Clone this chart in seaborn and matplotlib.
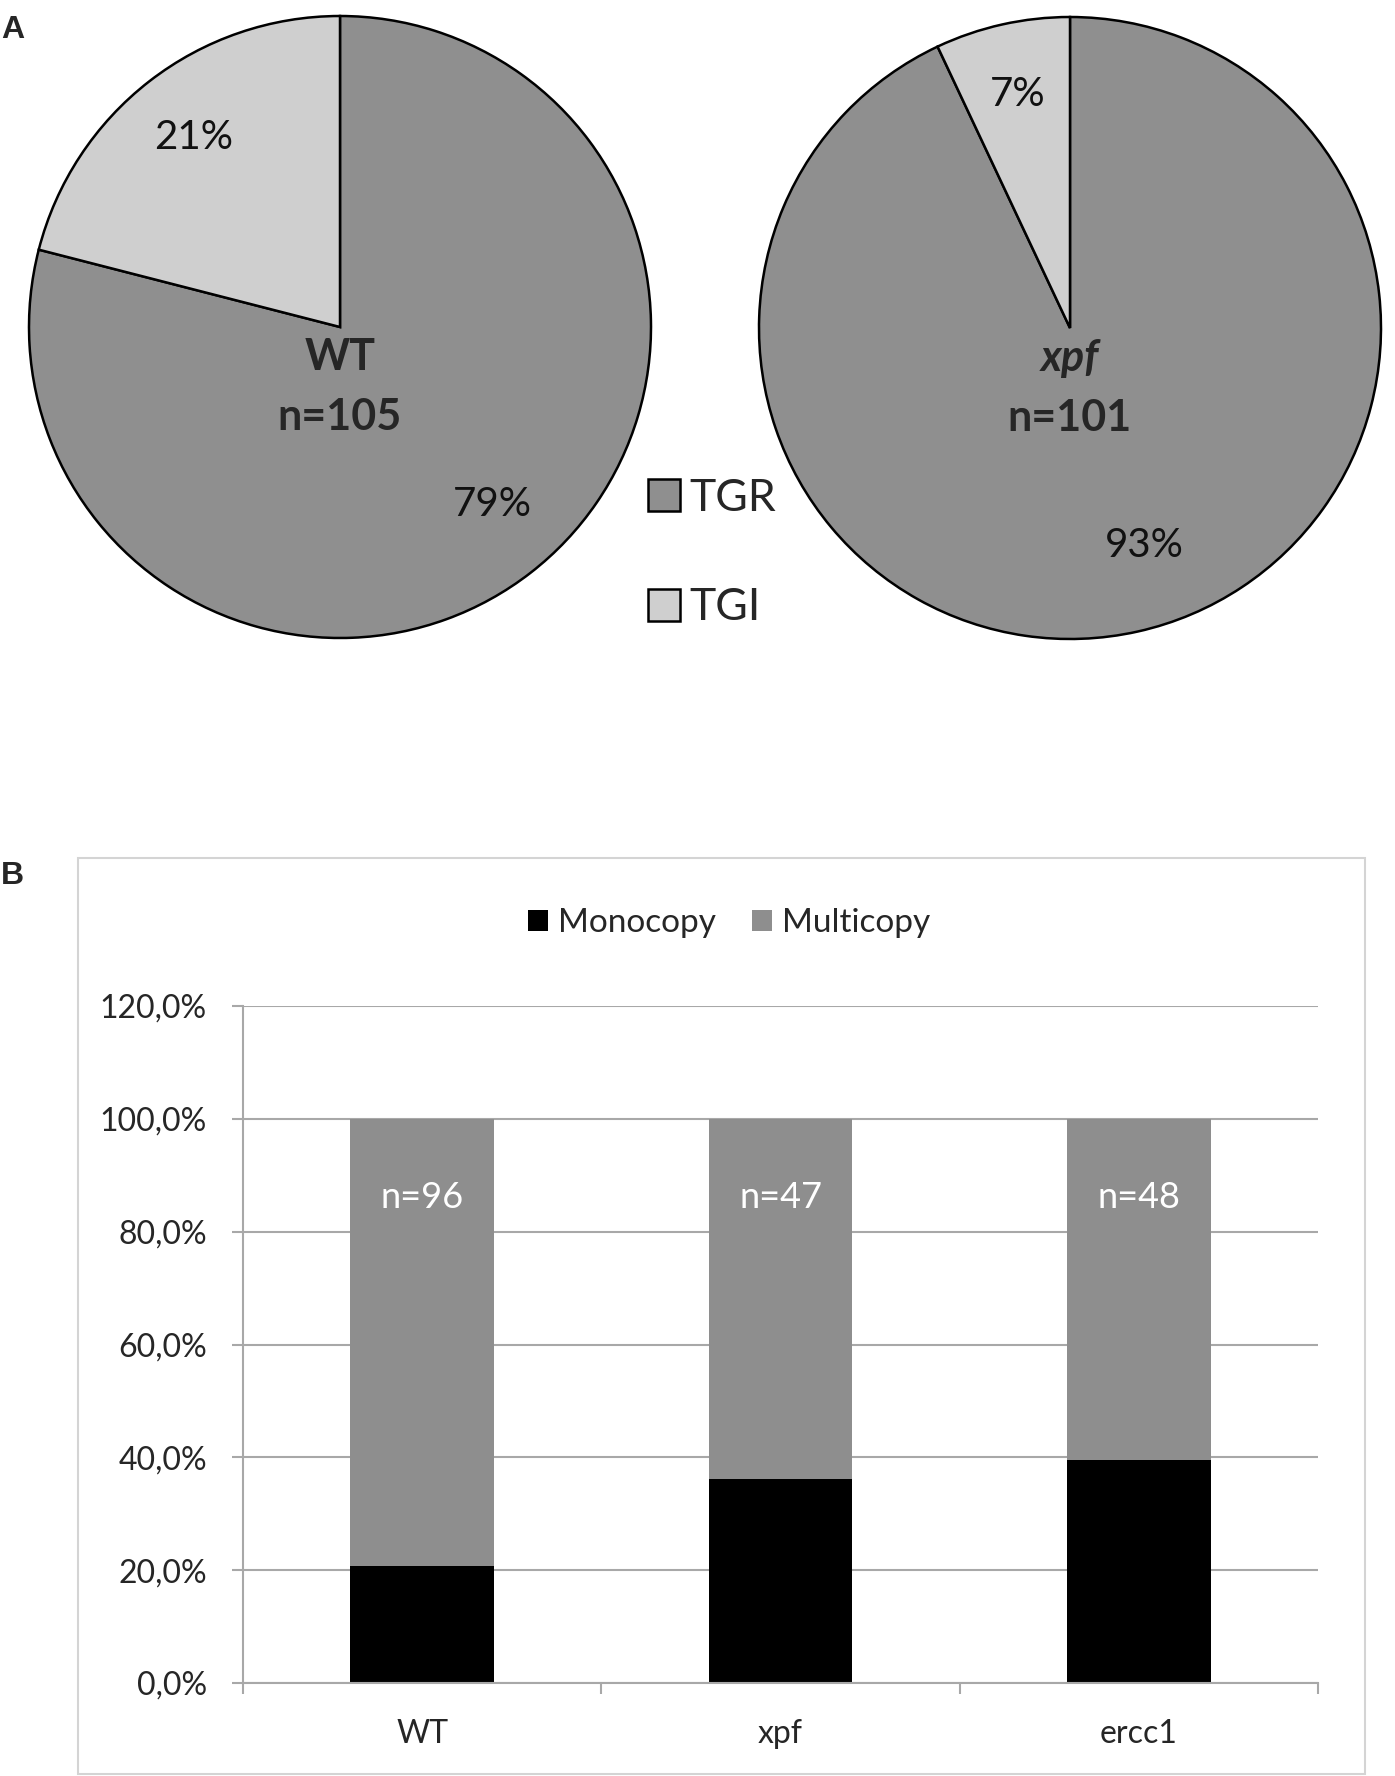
import matplotlib
matplotlib.use("Agg")
import matplotlib.pyplot as plt
import matplotlib.patches as mpatches
from matplotlib.ticker import FuncFormatter, FixedLocator
import pandas as pd
import seaborn as sns

sns.set_style("white")
plt.rcParams['font.family'] = ['Lato', 'DejaVu Sans']

# --- Panel A data (pie charts) ---
pie_labels = ["TGR", "TGI"]
wt_pct = [79, 21]
xpf_pct = [93, 7]
pie_colors = ["#8f8f8f", "#cfcfcf"]

# --- Panel B data (stacked bars) ---
genotypes = ["WT", "xpf", "ercc1"]
monocopy = [20.8, 36.2, 39.6]
multicopy = [79.2, 63.8, 60.4]
n_counts = ["n=96", "n=47", "n=48"]

W, H = 1395, 1776
fig = plt.figure(figsize=(W / 100, H / 100), dpi=100)


def px_axes(cx, cy, half):
    return fig.add_axes([(cx - half) / W, 1 - (cy + half) / H, 2 * half / W, 2 * half / H])


R = 311
pad = 1.04


def draw_pie(cx, cy, vals, title, n_text, italic=False, big_pos=None):
    ax = px_axes(cx, cy, R * pad)
    wedges, _, autotexts = ax.pie(
        vals, colors=pie_colors, startangle=90, counterclock=False,
        autopct=lambda p: f"{p:.0f}%", pctdistance=0.77,
        wedgeprops=dict(edgecolor="black", linewidth=1.8),
        textprops=dict(fontsize=29, color="#111111"))
    # the big slice label sits a bit off the slice bisector in the original
    if big_pos is not None:
        autotexts[0].set_position(big_pos)
    ax.set_xlim(-pad, pad)
    ax.set_ylim(-pad, pad)
    ax.set_aspect("equal")
    ax.axis("off")
    ax.text(0, -0.095, title, ha="center", va="center", fontsize=31,
            fontweight="bold", style="italic" if italic else "normal")
    ax.text(0, -0.29, n_text, ha="center", va="center", fontsize=31, fontweight="bold")
    return wedges


wedges = draw_pie(340, 327, wt_pct, "WT", "n=105", big_pos=(0.49, -0.57))
draw_pie(1070, 328, xpf_pct, "xpf", "n=101", italic=True, big_pos=(0.24, -0.70))

fig.legend(wedges, pie_labels, loc="center left", bbox_to_anchor=(648 / W, 1 - 553 / H),
           frameon=False, fontsize=32, handlelength=0.72, handleheight=0.72,
           handletextpad=0.2, labelspacing=1.55, borderpad=0, borderaxespad=0)

# --- Panel B ---
ax = fig.add_axes([243 / W, 1 - 1683 / H, (1318 - 243) / W, (1683 - 1006) / H])
df = pd.DataFrame({"genotype": genotypes, "mono": monocopy, "multi": multicopy})
df["total"] = df["mono"] + df["multi"]

sns.barplot(data=df, x="genotype", y="total", color="#8e8e8e", saturation=1,
            width=0.4, ax=ax, label="Multicopy", linewidth=0)
sns.barplot(data=df, x="genotype", y="mono", color="black", saturation=1,
            width=0.4, ax=ax, label="Monocopy", linewidth=0)
if ax.get_legend() is not None:
    ax.get_legend().remove()

for i, t in enumerate(n_counts):
    ax.text(i, 86, t, ha="center", va="center", color="white", fontsize=26)

ax.set_ylim(0, 120)
ax.set_xlim(-0.5, 2.5)
ax.set_yticks(range(0, 121, 20))
ax.yaxis.set_major_formatter(FuncFormatter(lambda v, _: f"{v:.1f}%".replace(".", ",")))
ax.yaxis.grid(True, color="#a8a8a8", linewidth=1.5)
ax.set_axisbelow(True)
ax.set_xlabel("")
ax.set_ylabel("")
for s in ["top", "right"]:
    ax.spines[s].set_visible(False)
for s in ["left", "bottom"]:
    ax.spines[s].set_color("#a8a8a8")
    ax.spines[s].set_linewidth(1.5)
ax.tick_params(axis="y", which="major", left=True, length=8, width=1.5, color="#a8a8a8",
               labelsize=23, pad=18)
ax.tick_params(axis="x", which="major", length=0, labelsize=23, pad=26)
ax.xaxis.set_minor_locator(FixedLocator([-0.5, 0.5, 1.5, 2.5]))
ax.tick_params(axis="x", which="minor", bottom=True, length=8, width=1.5, color="#a8a8a8")

handles, labels = ax.get_legend_handles_labels()
order = [labels.index("Monocopy"), labels.index("Multicopy")]
fig.legend([handles[i] for i in order], [labels[i] for i in order], loc="center",
           bbox_to_anchor=(729 / W, 1 - 923 / H), ncol=2, frameon=False, fontsize=24,
           handlelength=0.6, handleheight=0.6, handletextpad=0.3, columnspacing=1.1,
           borderpad=0, borderaxespad=0)

fig.add_artist(mpatches.Rectangle((78 / W, 1 - 1774 / H), (1365 - 78) / W, (1774 - 858) / H,
                                  transform=fig.transFigure, fill=False,
                                  edgecolor="#d4d4d4", linewidth=1.5))

fig.text(1 / W, 1 - 30 / H, "A", fontsize=23, fontweight="bold",
         family=["Liberation Sans", "DejaVu Sans"], ha="left", va="center")
fig.text(1 / W, 1 - 876 / H, "B", fontsize=23, fontweight="bold",
         family=["Liberation Sans", "DejaVu Sans"], ha="left", va="center")

fig.savefig("out.png", dpi=100, facecolor="white")
